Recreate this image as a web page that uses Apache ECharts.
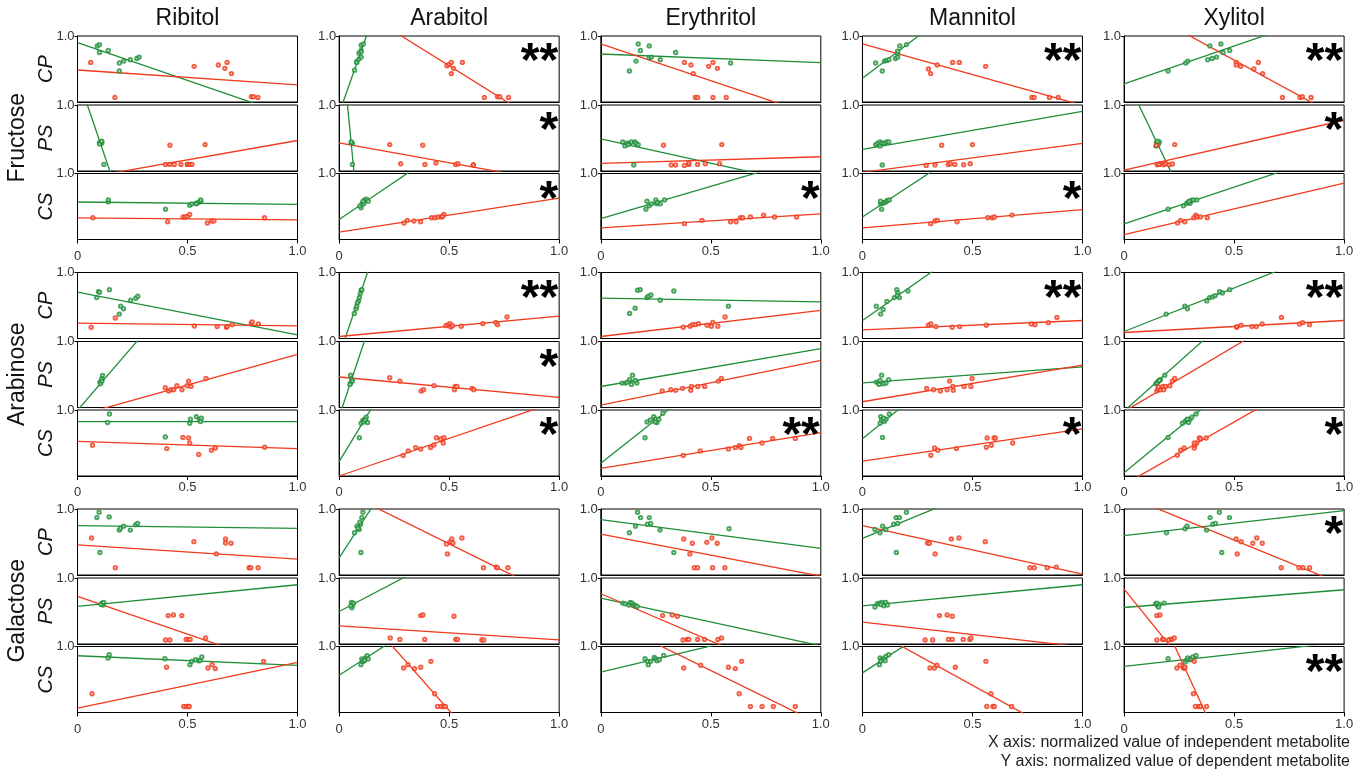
<!DOCTYPE html>
<html>
<head>
<meta charset="utf-8">
<script src="https://cdn.jsdelivr.net/npm/echarts@6/dist/echarts.min.js"></script>
<style>
  html, body { margin: 0; padding: 0; background: #fff; }
  #chart { width: 1362px; height: 774px; }
</style>
</head>
<body>
<div id="chart"></div>
<script>
// columns, row groups and the three tissues of each group
const metabolites = ['Ribitol', 'Arabitol', 'Erythritol', 'Mannitol', 'Xylitol']
const sugars = ['Fructose', 'Arabinose', 'Galactose']
const tissues = ['CP', 'PS', 'CS']
const xTickLabels = ['0', '0.5', '1.0']

// ---------- Fructose ----------
const fru_CP_green = [
  [[0.09,0.85],[0.10,0.87],[0.10,0.75],[0.14,0.78],[0.19,0.59],[0.21,0.62],[0.24,0.64],[0.27,0.66],[0.28,0.68],[0.19,0.47]],
  [[0.07,0.48],[0.08,0.61],[0.08,0.60],[0.09,0.65],[0.10,0.68],[0.09,0.74],[0.10,0.78],[0.10,0.86],[0.11,0.88],[0.10,0.76]],
  [[0.13,0.47],[0.16,0.62],[0.17,0.88],[0.18,0.78],[0.22,0.67],[0.22,0.85],[0.23,0.68],[0.27,0.64],[0.34,0.75],[0.59,0.59]],
  [[0.06,0.59],[0.09,0.47],[0.10,0.62],[0.11,0.63],[0.15,0.66],[0.16,0.73],[0.16,0.77],[0.16,0.68],[0.17,0.85],[0.20,0.87],[0.12,0.64]],
  [[0.20,0.47],[0.28,0.59],[0.29,0.62],[0.38,0.64],[0.39,0.85],[0.40,0.66],[0.42,0.68],[0.44,0.88],[0.45,0.75],[0.48,0.78]]
]
const fru_CP_red = [
  [[0.06,0.60],[0.17,0.07],[0.53,0.54],[0.64,0.56],[0.68,0.60],[0.67,0.51],[0.70,0.43],[0.79,0.08],[0.80,0.08],[0.82,0.07]],
  [[0.49,0.55],[0.50,0.57],[0.51,0.60],[0.52,0.51],[0.51,0.43],[0.56,0.60],[0.66,0.07],[0.72,0.08],[0.73,0.08],[0.77,0.07]],
  [[0.38,0.60],[0.41,0.56],[0.42,0.43],[0.43,0.07],[0.44,0.07],[0.49,0.54],[0.51,0.60],[0.53,0.51],[0.51,0.07],[0.57,0.07]],
  [[0.30,0.50],[0.31,0.43],[0.34,0.56],[0.41,0.60],[0.44,0.60],[0.56,0.54],[0.77,0.07],[0.78,0.07],[0.85,0.07],[0.89,0.07]],
  [[0.51,0.60],[0.51,0.56],[0.53,0.54],[0.59,0.50],[0.61,0.60],[0.63,0.43],[0.72,0.07],[0.80,0.07],[0.81,0.08],[0.85,0.07]]
]
const fru_CP_lineGreen = [[0.90,-0.245],[-0.17,9.26],[0.727,0.596],[0.359,2.879],[0.273,1.422]]
const fru_CP_lineRed = [[0.485,0.258],[1.589,-0.49],[0.879,-0.234],[0.879,-0.049],[1.545,-0.275]]

const fru_PS_green = [
  [[0.10,0.43],[0.11,0.44],[0.11,0.42],[0.10,0.41],[0.11,0.45],[0.12,0.10]],
  [[0.055,0.43],[0.06,0.42],[0.055,0.44],[0.06,0.10]],
  [[0.10,0.44],[0.11,0.38],[0.12,0.42],[0.13,0.42],[0.14,0.44],[0.155,0.44],[0.16,0.42],[0.17,0.40],[0.15,0.09],[0.125,0.40]],
  [[0.06,0.40],[0.07,0.42],[0.08,0.44],[0.08,0.38],[0.09,0.42],[0.10,0.42],[0.11,0.44],[0.12,0.44],[0.09,0.09]],
  [[0.147,0.43],[0.155,0.40],[0.16,0.44],[0.145,0.38],[0.152,0.45]]
]
const fru_PS_red = [
  [[0.42,0.39],[0.58,0.40],[0.40,0.10],[0.42,0.10],[0.44,0.10],[0.47,0.10],[0.50,0.10],[0.50,0.10],[0.51,0.10],[0.52,0.10]],
  [[0.23,0.40],[0.38,0.39],[0.28,0.11],[0.39,0.10],[0.44,0.12],[0.53,0.10],[0.54,0.11],[0.61,0.09],[0.61,0.09]],
  [[0.285,0.39],[0.32,0.09],[0.34,0.09],[0.38,0.085],[0.40,0.10],[0.40,0.12],[0.44,0.10],[0.475,0.11],[0.54,0.11],[0.55,0.40]],
  [[0.29,0.085],[0.33,0.09],[0.36,0.39],[0.39,0.10],[0.40,0.11],[0.42,0.10],[0.46,0.095],[0.49,0.11],[0.50,0.40]],
  [[0.147,0.39],[0.23,0.40],[0.15,0.095],[0.165,0.11],[0.18,0.095],[0.19,0.11],[0.205,0.095],[0.22,0.105],[0.158,0.10]]
]
const fru_PS_lineGreen = [[1.44,-8.36],[2.31,-32.2],[0.487,-0.25],[0.327,0.905],[1.465,-5.475]]
const fru_PS_lineRed = [[-0.124,0.462],[0.427,-0.176],[0.116,0.216],[-0.02,0.417],[0.015,0.769]]

const fru_CS_green = [
  [[0.14,0.57],[0.14,0.60],[0.40,0.46],[0.51,0.52],[0.52,0.54],[0.54,0.55],[0.55,0.56],[0.56,0.58],[0.56,0.60],[0.54,0.54]],
  [[0.10,0.48],[0.105,0.55],[0.117,0.60],[0.124,0.61],[0.132,0.58],[0.094,0.51],[0.112,0.54],[0.109,0.58]],
  [[0.205,0.46],[0.21,0.58],[0.22,0.51],[0.23,0.54],[0.25,0.60],[0.254,0.54],[0.257,0.56],[0.27,0.54],[0.29,0.60]],
  [[0.082,0.54],[0.087,0.46],[0.091,0.55],[0.099,0.56],[0.107,0.57],[0.113,0.59],[0.122,0.60],[0.082,0.58]],
  [[0.20,0.46],[0.27,0.51],[0.285,0.55],[0.293,0.57],[0.30,0.55],[0.306,0.59],[0.314,0.60],[0.33,0.60],[0.296,0.58]]
]
const fru_CS_red = [
  [[0.07,0.33],[0.41,0.27],[0.48,0.34],[0.49,0.34],[0.50,0.35],[0.51,0.38],[0.59,0.25],[0.61,0.28],[0.62,0.28],[0.85,0.33]],
  [[0.295,0.25],[0.31,0.29],[0.34,0.28],[0.37,0.27],[0.42,0.33],[0.435,0.33],[0.45,0.34],[0.465,0.34],[0.476,0.38],[0.47,0.35]],
  [[0.38,0.24],[0.46,0.29],[0.59,0.27],[0.615,0.27],[0.635,0.33],[0.645,0.33],[0.68,0.34],[0.74,0.37],[0.79,0.34],[0.89,0.34]],
  [[0.31,0.24],[0.33,0.28],[0.34,0.29],[0.43,0.27],[0.57,0.33],[0.59,0.33],[0.60,0.34],[0.68,0.37]],
  [[0.243,0.25],[0.257,0.29],[0.276,0.27],[0.317,0.33],[0.326,0.37],[0.332,0.34],[0.347,0.34],[0.378,0.33]]
]
const fru_CS_lineGreen = [[0.568,0.533],[0.302,2.562],[0.317,1.294],[0.342,2.532],[0.236,1.35]]
const fru_CS_lineRed = [[0.327,0.296],[0.111,0.628],[0.176,0.387],[0.176,0.452],[0.075,0.854]]

// ---------- Arabinose ----------
const ara_CP_green = [
  [[0.087,0.62],[0.095,0.71],[0.10,0.70],[0.145,0.74],[0.19,0.37],[0.196,0.49],[0.209,0.45],[0.242,0.58],[0.265,0.61],[0.274,0.64]],
  [[0.069,0.38],[0.077,0.45],[0.080,0.49],[0.088,0.57],[0.092,0.62],[0.096,0.68],[0.100,0.73],[0.103,0.74],[0.083,0.54]],
  [[0.131,0.38],[0.156,0.46],[0.167,0.73],[0.179,0.74],[0.21,0.62],[0.216,0.64],[0.228,0.66],[0.27,0.58],[0.332,0.72],[0.58,0.49]],
  [[0.063,0.49],[0.083,0.37],[0.094,0.44],[0.111,0.56],[0.145,0.62],[0.156,0.74],[0.161,0.69],[0.168,0.62],[0.207,0.72],[0.158,0.65]],
  [[0.191,0.37],[0.276,0.49],[0.288,0.45],[0.376,0.57],[0.388,0.62],[0.402,0.63],[0.414,0.65],[0.434,0.71],[0.447,0.69],[0.48,0.74]]
]
const ara_CP_red = [
  [[0.062,0.17],[0.172,0.31],[0.531,0.19],[0.635,0.18],[0.677,0.17],[0.68,0.18],[0.703,0.21],[0.79,0.23],[0.794,0.25],[0.822,0.22]],
  [[0.485,0.195],[0.496,0.21],[0.504,0.225],[0.508,0.175],[0.515,0.195],[0.555,0.185],[0.653,0.225],[0.712,0.245],[0.72,0.21],[0.763,0.325]],
  [[0.375,0.17],[0.406,0.185],[0.417,0.21],[0.429,0.21],[0.444,0.225],[0.483,0.20],[0.503,0.185],[0.509,0.245],[0.532,0.185],[0.565,0.325]],
  [[0.30,0.20],[0.311,0.22],[0.334,0.18],[0.408,0.17],[0.442,0.18],[0.563,0.20],[0.767,0.22],[0.784,0.21],[0.845,0.24],[0.884,0.32]],
  [[0.512,0.17],[0.532,0.20],[0.581,0.18],[0.601,0.18],[0.627,0.22],[0.715,0.32],[0.797,0.22],[0.812,0.24],[0.843,0.21],[0.512,0.18]]
]
const ara_CP_lineGreen = [[0.702,0.056],[-0.264,9.536],[0.613,0.556],[0.273,2.613],[0.106,1.426]]
const ara_CP_lineRed = [[0.232,0.192],[0.03,0.34],[0.03,0.427],[0.131,0.273],[0.091,0.273]]

const ara_PS_green = [
  [[0.102,0.385],[0.11,0.436],[0.114,0.487],[0.105,0.359],[0.111,0.40]],
  [[0.052,0.49],[0.057,0.42],[0.052,0.37],[0.06,0.40],[0.049,0.35]],
  [[0.097,0.37],[0.113,0.37],[0.131,0.42],[0.144,0.49],[0.156,0.41],[0.139,0.35],[0.164,0.37],[0.12,0.385]],
  [[0.063,0.385],[0.073,0.37],[0.08,0.41],[0.087,0.49],[0.096,0.36],[0.107,0.37],[0.119,0.42],[0.076,0.35]],
  [[0.145,0.36],[0.152,0.385],[0.157,0.40],[0.165,0.42],[0.185,0.49],[0.149,0.37],[0.16,0.41]]
]
const ara_PS_red = [
  [[0.399,0.30],[0.414,0.25],[0.425,0.27],[0.437,0.27],[0.475,0.27],[0.452,0.33],[0.498,0.33],[0.505,0.40],[0.516,0.32],[0.584,0.44]],
  [[0.23,0.45],[0.276,0.40],[0.373,0.25],[0.384,0.27],[0.431,0.33],[0.524,0.27],[0.527,0.32],[0.535,0.32],[0.604,0.29],[0.612,0.27]],
  [[0.279,0.25],[0.318,0.27],[0.34,0.26],[0.372,0.29],[0.409,0.26],[0.412,0.32],[0.441,0.32],[0.472,0.32],[0.534,0.40],[0.548,0.44]],
  [[0.292,0.29],[0.323,0.27],[0.354,0.25],[0.385,0.27],[0.396,0.40],[0.411,0.32],[0.413,0.26],[0.462,0.32],[0.493,0.32],[0.498,0.44]],
  [[0.149,0.25],[0.154,0.28],[0.165,0.27],[0.18,0.27],[0.177,0.32],[0.188,0.32],[0.208,0.33],[0.219,0.40],[0.23,0.44],[0.157,0.31]]
]
const ara_PS_lineGreen = [[-0.043,3.827],[-0.14,9.86],[0.318,0.892],[0.374,0.615],[-0.054,2.926]]
const ara_PS_lineRed = [[-0.123,0.804],[0.462,0.154],[0.036,0.713],[0.087,0.641],[-0.061,1.909]]

const ara_CS_green = [
  [[0.145,0.94],[0.137,0.81],[0.399,0.59],[0.513,0.86],[0.51,0.80],[0.54,0.90],[0.554,0.85],[0.563,0.875],[0.559,0.825]],
  [[0.092,0.58],[0.10,0.80],[0.108,0.84],[0.116,0.86],[0.123,0.89],[0.129,0.81],[0.111,0.82],[0.119,0.85]],
  [[0.201,0.58],[0.21,0.82],[0.225,0.85],[0.241,0.90],[0.249,0.86],[0.255,0.81],[0.264,0.86],[0.282,0.95],[0.247,0.82]],
  [[0.091,0.585],[0.083,0.90],[0.087,0.85],[0.099,0.825],[0.107,0.86],[0.122,0.94],[0.08,0.80],[0.096,0.875]],
  [[0.20,0.585],[0.265,0.80],[0.277,0.825],[0.285,0.85],[0.293,0.81],[0.30,0.86],[0.308,0.89],[0.327,0.94],[0.288,0.86]]
]
const ara_CS_red = [
  [[0.068,0.465],[0.406,0.415],[0.479,0.585],[0.505,0.575],[0.51,0.50],[0.551,0.325],[0.609,0.39],[0.627,0.425],[0.851,0.435]],
  [[0.291,0.31],[0.314,0.38],[0.348,0.43],[0.371,0.41],[0.416,0.43],[0.431,0.47],[0.442,0.58],[0.462,0.56],[0.476,0.58],[0.473,0.50]],
  [[0.375,0.31],[0.452,0.38],[0.58,0.41],[0.611,0.43],[0.63,0.46],[0.637,0.43],[0.676,0.57],[0.733,0.50],[0.781,0.57],[0.884,0.57]],
  [[0.311,0.315],[0.328,0.425],[0.342,0.39],[0.427,0.415],[0.563,0.435],[0.567,0.575],[0.586,0.465],[0.598,0.575],[0.604,0.575],[0.683,0.50]],
  [[0.242,0.315],[0.257,0.39],[0.273,0.425],[0.319,0.425],[0.322,0.465],[0.33,0.50],[0.342,0.575],[0.347,0.565],[0.373,0.575],[0.319,0.50]]
]
const ara_CS_lineGreen = [[0.825,0.825],[0.217,5.727],[0.192,2.832],[0.565,3.265],[0.05,2.79]]
const ara_CS_lineRed = [[0.525,0.415],[0,1.139],[0.116,0.657],[0.225,0.715],[-0.129,1.765]]

// ---------- Galactose ----------
const gal_CP_green = [
  [[0.088,0.87],[0.098,0.95],[0.144,0.88],[0.19,0.68],[0.195,0.71],[0.21,0.74],[0.24,0.68],[0.264,0.76],[0.273,0.78],[0.102,0.34]],
  [[0.07,0.64],[0.081,0.74],[0.091,0.69],[0.098,0.77],[0.103,0.87],[0.108,0.95],[0.099,0.34],[0.086,0.71],[0.094,0.80]],
  [[0.13,0.64],[0.158,0.74],[0.167,0.95],[0.181,0.87],[0.212,0.77],[0.22,0.87],[0.227,0.78],[0.269,0.68],[0.332,0.34],[0.583,0.70]],
  [[0.057,0.69],[0.08,0.64],[0.092,0.74],[0.106,0.69],[0.142,0.77],[0.153,0.87],[0.16,0.78],[0.168,0.87],[0.20,0.95],[0.154,0.34]],
  [[0.193,0.64],[0.277,0.70],[0.286,0.74],[0.375,0.68],[0.391,0.87],[0.403,0.77],[0.415,0.78],[0.433,0.95],[0.479,0.87],[0.444,0.34]]
]
const gal_CP_red = [
  [[0.064,0.56],[0.172,0.11],[0.529,0.505],[0.631,0.32],[0.673,0.545],[0.673,0.485],[0.698,0.48],[0.78,0.11],[0.788,0.11],[0.821,0.11]],
  [[0.488,0.47],[0.492,0.32],[0.505,0.505],[0.512,0.545],[0.517,0.485],[0.558,0.56],[0.656,0.11],[0.714,0.12],[0.719,0.11],[0.767,0.11]],
  [[0.377,0.545],[0.405,0.32],[0.416,0.48],[0.425,0.11],[0.44,0.11],[0.482,0.495],[0.505,0.56],[0.508,0.11],[0.529,0.48],[0.564,0.11]],
  [[0.296,0.485],[0.304,0.48],[0.33,0.32],[0.404,0.545],[0.439,0.56],[0.558,0.505],[0.761,0.11],[0.781,0.11],[0.84,0.11],[0.881,0.12]],
  [[0.509,0.545],[0.514,0.32],[0.532,0.505],[0.585,0.48],[0.603,0.56],[0.628,0.48],[0.714,0.11],[0.795,0.11],[0.813,0.11],[0.843,0.11]]
]
const gal_CP_lineGreen = [[0.747,0.707],[0.258,5.408],[0.838,0.404],[0.556,1.926],[0.596,0.975]]
const gal_CP_lineRed = [[0.455,0.242],[1.297,-0.353],[0.621,-0.018],[0.747,0.015],[1.211,-0.151]]

const gal_PS_green = [
  [[0.111,0.62],[0.116,0.59],[0.107,0.60],[0.119,0.63]],
  [[0.056,0.63],[0.061,0.59],[0.058,0.55],[0.053,0.58],[0.065,0.62]],
  [[0.10,0.62],[0.111,0.61],[0.127,0.59],[0.134,0.63],[0.142,0.62],[0.15,0.59],[0.158,0.58],[0.165,0.57]],
  [[0.057,0.56],[0.068,0.61],[0.077,0.62],[0.089,0.63],[0.096,0.58],[0.106,0.63],[0.114,0.59],[0.083,0.60]],
  [[0.144,0.61],[0.152,0.58],[0.16,0.60],[0.149,0.62],[0.182,0.62],[0.157,0.56]]
]
const gal_PS_red = [
  [[0.412,0.43],[0.436,0.44],[0.474,0.43],[0.40,0.06],[0.42,0.06],[0.494,0.07],[0.504,0.07],[0.512,0.07],[0.582,0.09]],
  [[0.232,0.09],[0.276,0.07],[0.371,0.43],[0.381,0.44],[0.389,0.07],[0.522,0.42],[0.53,0.07],[0.538,0.07],[0.649,0.06],[0.657,0.06]],
  [[0.281,0.43],[0.325,0.44],[0.348,0.42],[0.374,0.06],[0.393,0.07],[0.40,0.07],[0.44,0.07],[0.471,0.07],[0.532,0.07],[0.549,0.09]],
  [[0.285,0.06],[0.319,0.06],[0.35,0.43],[0.385,0.44],[0.391,0.07],[0.408,0.07],[0.408,0.42],[0.458,0.07],[0.488,0.07],[0.493,0.09]],
  [[0.149,0.43],[0.163,0.44],[0.149,0.06],[0.175,0.07],[0.179,0.07],[0.21,0.07],[0.217,0.07],[0.228,0.09],[0.202,0.06]]
]
const gal_PS_lineGreen = [[0.569,0.898],[0.492,2.242],[0.695,-0.028],[0.579,0.898],[0.553,0.822]]
const gal_PS_lineRed = [[0.721,-0.422],[0.274,0.061],[0.761,-0.669],[0.33,-0.045],[0.832,-3.288]]

const gal_CS_green = [
  [[0.139,0.825],[0.144,0.875],[0.397,0.815],[0.511,0.725],[0.519,0.775],[0.537,0.80],[0.552,0.785],[0.557,0.79],[0.565,0.84]],
  [[0.099,0.725],[0.103,0.81],[0.111,0.775],[0.119,0.825],[0.127,0.86],[0.132,0.81],[0.108,0.78],[0.116,0.79]],
  [[0.201,0.815],[0.212,0.775],[0.216,0.725],[0.227,0.775],[0.243,0.835],[0.25,0.81],[0.255,0.785],[0.266,0.80],[0.286,0.865]],
  [[0.077,0.725],[0.08,0.825],[0.089,0.80],[0.096,0.815],[0.103,0.785],[0.106,0.85],[0.119,0.875],[0.083,0.775]],
  [[0.20,0.815],[0.278,0.765],[0.286,0.80],[0.289,0.825],[0.30,0.80],[0.304,0.81],[0.312,0.84],[0.327,0.865]]
]
const gal_CS_red = [
  [[0.066,0.285],[0.405,0.685],[0.483,0.09],[0.494,0.09],[0.504,0.09],[0.508,0.09],[0.593,0.675],[0.612,0.725],[0.626,0.665],[0.846,0.775]],
  [[0.293,0.675],[0.313,0.725],[0.343,0.665],[0.371,0.685],[0.417,0.775],[0.434,0.285],[0.447,0.09],[0.464,0.09],[0.475,0.09],[0.483,0.09]],
  [[0.377,0.675],[0.454,0.715],[0.58,0.685],[0.611,0.665],[0.64,0.775],[0.629,0.285],[0.68,0.09],[0.733,0.09],[0.784,0.09],[0.884,0.09]],
  [[0.307,0.675],[0.327,0.675],[0.339,0.715],[0.422,0.685],[0.561,0.775],[0.584,0.285],[0.565,0.09],[0.593,0.09],[0.599,0.09],[0.678,0.09]],
  [[0.24,0.675],[0.254,0.715],[0.27,0.675],[0.274,0.675],[0.277,0.685],[0.319,0.775],[0.315,0.285],[0.324,0.09],[0.339,0.09],[0.347,0.09],[0.375,0.09]]
]
const gal_CS_lineGreen = [[0.86,0.715],[0.565,2.715],[0.61,1.406],[0.60,2.76],[0.70,1.069]]
const gal_CS_lineRed = [[0.065,0.76],[1.917,-1.853],[1.453,-0.181],[1.332,-0.508],[2.675,-4.575]]

// significance marks, per sugar -> tissue -> metabolite
const fru_stars = [['', '**', '', '**', '**'], ['', '*', '', '', '*'], ['', '*', '*', '*', '']]
const ara_stars = [['', '**', '', '**', '**'], ['', '*', '', '', ''], ['', '*', '**', '*', '*']]
const gal_stars = [['', '', '', '', '*'], ['', '', '', '', ''], ['', '', '', '', '**']]

const greenPts = [[fru_CP_green, fru_PS_green, fru_CS_green], [ara_CP_green, ara_PS_green, ara_CS_green], [gal_CP_green, gal_PS_green, gal_CS_green]]
const redPts = [[fru_CP_red, fru_PS_red, fru_CS_red], [ara_CP_red, ara_PS_red, ara_CS_red], [gal_CP_red, gal_PS_red, gal_CS_red]]
const greenLines = [[fru_CP_lineGreen, fru_PS_lineGreen, fru_CS_lineGreen], [ara_CP_lineGreen, ara_PS_lineGreen, ara_CS_lineGreen], [gal_CP_lineGreen, gal_PS_lineGreen, gal_CS_lineGreen]]
const redLines = [[fru_CP_lineRed, fru_PS_lineRed, fru_CS_lineRed], [ara_CP_lineRed, ara_PS_lineRed, ara_CS_lineRed], [gal_CP_lineRed, gal_PS_lineRed, gal_CS_lineRed]]
const stars = [fru_stars, ara_stars, gal_stars]

const GREEN = '#1f8e38'
const RED = '#f03a1c'
const FONT = '"Liberation Sans", Arial, sans-serif'

// panel layout (px)
const PANEL_W = 220
const PANEL_H = 66
const COL_LEFT = 77.5
const COL_STEP = 261.65
const groupTop = [36, 272.5, 509]
const rowOffset = [0, 69, 137.5]

const chart = echarts.init(document.getElementById('chart'))

const grids = [], xAxes = [], yAxes = [], series = [], graphics = []
let k = 0
for (let s = 0; s < sugars.length; s++) {
  for (let t = 0; t < tissues.length; t++) {
    for (let m = 0; m < metabolites.length; m++) {
      const left = COL_LEFT + COL_STEP * m
      const top = groupTop[s] + rowOffset[t]
      const bottomRow = t === 2
      grids.push({
        left: left, top: top, width: PANEL_W, height: PANEL_H,
        show: true, borderColor: '#000', borderWidth: 1, backgroundColor: '#fff'
      })
      xAxes.push({
        gridIndex: k, type: 'value', min: 0, max: 1, interval: 0.5,
        axisLine: { show: true, lineStyle: { color: '#000', width: 1 } },
        axisTick: { show: bottomRow, length: 4, lineStyle: { color: '#000' } },
        axisLabel: {
          show: bottomRow, margin: 5, color: '#333', fontSize: 13, fontFamily: FONT,
          // the "0" label sits a little lower than the others in the original
          formatter: v => v === 0 ? '{z|0}' : xTickLabels[Math.round(v * 2)],
          rich: { z: { fontSize: 13, fontFamily: FONT, color: '#333', padding: [5, 0, 0, 0] } }
        },
        splitLine: { show: false }
      })
      yAxes.push({
        gridIndex: k, type: 'value', min: 0, max: 1, interval: 1,
        axisLine: { show: true, lineStyle: { color: '#000', width: 1 } },
        axisTick: { show: true, length: 3, customValues: [1], lineStyle: { color: '#000' } },
        axisLabel: {
          show: true, customValues: [1], margin: 3, color: '#333', fontSize: 13, fontFamily: FONT,
          formatter: () => '1.0'
        },
        splitLine: { show: false }
      })
      const gl = greenLines[s][t][m], rl = redLines[s][t][m]
      series.push({
        type: 'line', xAxisIndex: k, yAxisIndex: k, data: [[0, gl[0]], [1, gl[1]]],
        symbol: 'none', clip: true, silent: true, z: 2,
        lineStyle: { color: GREEN, width: 1.3 }
      })
      series.push({
        type: 'line', xAxisIndex: k, yAxisIndex: k, data: [[0, rl[0]], [1, rl[1]]],
        symbol: 'none', clip: true, silent: true, z: 2,
        lineStyle: { color: RED, width: 1.3 }
      })
      series.push({
        type: 'scatter', xAxisIndex: k, yAxisIndex: k, data: greenPts[s][t][m],
        symbol: 'emptyCircle', symbolSize: 3.4, silent: true, z: 3,
        itemStyle: { color: GREEN, borderColor: GREEN, borderWidth: 0.9 }
      })
      series.push({
        type: 'scatter', xAxisIndex: k, yAxisIndex: k, data: redPts[s][t][m],
        symbol: 'emptyCircle', symbolSize: 3.4, silent: true, z: 3,
        itemStyle: { color: RED, borderColor: RED, borderWidth: 0.9 }
      })
      const star = stars[s][t][m]
      if (star) {
        graphics.push({
          type: 'text', x: left + PANEL_W - 1, y: top + 27, z: 10,
          style: { text: star, align: 'right', verticalAlign: 'middle', fill: '#000',
            font: 'bold 48px "Liberation Sans", Arial, sans-serif' }
        })
      }
      k++
    }
  }
}

// column titles
metabolites.forEach((name, m) => {
  graphics.push({
    type: 'text', x: COL_LEFT + COL_STEP * m + PANEL_W / 2, y: 19,
    style: { text: name, align: 'center', verticalAlign: 'middle', fill: '#111',
      font: '23px "Liberation Sans", Arial, sans-serif' }
  })
})

// sugar group labels and tissue labels (rotated)
sugars.forEach((name, s) => {
  graphics.push({
    type: 'text', x: 18, y: groupTop[s] + (rowOffset[2] + PANEL_H) / 2, rotation: Math.PI / 2,
    style: { text: name, align: 'center', verticalAlign: 'middle', fill: '#111',
      font: '23px "Liberation Sans", Arial, sans-serif' }
  })
  tissues.forEach((tn, t) => {
    graphics.push({
      type: 'text', x: 46, y: groupTop[s] + rowOffset[t] + PANEL_H / 2, rotation: Math.PI / 2,
      style: { text: tn, align: 'center', verticalAlign: 'middle', fill: '#111',
        font: 'italic 20px "Liberation Sans", Arial, sans-serif' }
    })
  })
})

// axis note bottom right
graphics.push({
  type: 'text', x: 1350, y: 743,
  style: { text: 'X axis: normalized value of independent metabolite', align: 'right', verticalAlign: 'middle',
    fill: '#222', font: '16px "Liberation Sans", Arial, sans-serif' }
})
graphics.push({
  type: 'text', x: 1350, y: 762,
  style: { text: 'Y axis: normalized value of dependent metabolite', align: 'right', verticalAlign: 'middle',
    fill: '#222', font: '16px "Liberation Sans", Arial, sans-serif' }
})

chart.setOption({
  backgroundColor: '#fff',
  animation: false,
  grid: grids,
  xAxis: xAxes,
  yAxis: yAxes,
  series: series,
  graphic: graphics
})
</script>
</body>
</html>
